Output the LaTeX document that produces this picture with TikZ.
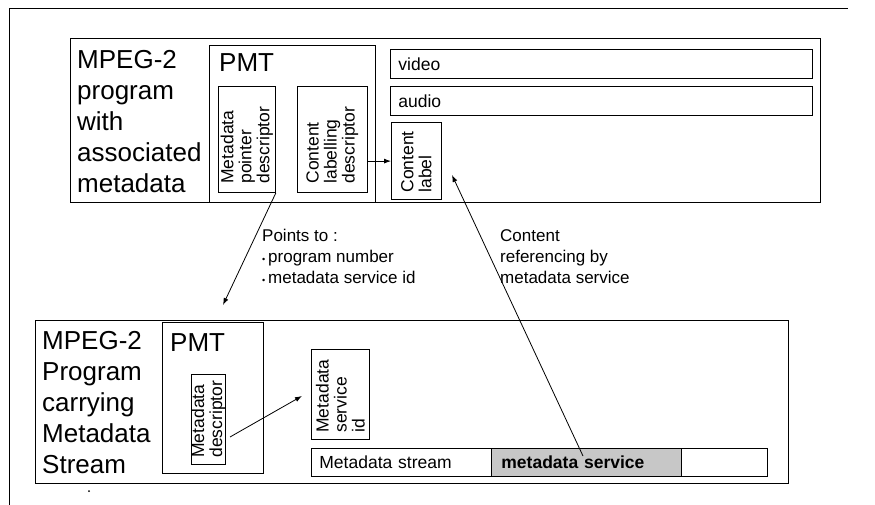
\documentclass[tikz,border=0pt]{standalone}
\usepackage{fontspec}
\setmainfont{Liberation Sans}
\usetikzlibrary{arrows.meta}

\begin{document}
\begin{tikzpicture}[x=1pt,y=-1pt]
\tikzset{box/.style = {draw, line width=.8pt, anchor=north west, inner sep=0pt}}
\tikzset{bigbox/.style = {box, line width=1.2pt}}
\tikzset{desc/.style = {box, rotate=90, align=left, inner xsep=9pt, font=\fontsize{17.5}{18}\selectfont}}
\tikzset{strip/.style = {box, align=left, inner xsep=8pt, minimum height=29pt, font=\fontsize{17.5}{19}\selectfont}}
\tikzset{title/.style = {anchor=north west, align=left, inner sep=0pt, font=\fontsize{26}{31}\selectfont}}
\tikzset{note/.style = {anchor=north west, align=left, inner sep=0pt, font=\fontsize{17}{21}\selectfont}}
\tikzset{edge/.style = {-{Latex[length=7pt,width=5pt]}, line width=.8pt}}
\newcommand{\bul}{{\fontsize{9}{9}\selectfont\textbullet}\,}

\useasboundingbox (0,0) rectangle (875,505);
\draw[line width=.8pt] (9,505) -- (9,8) -- (848,8);

% program with metadata
\node[bigbox, minimum width=750pt, minimum height=164pt] (prog) at (70,38) {};
\node[title] (progtxt) at (77,50) {MPEG-2\\program\\with\\associated\\metadata};
\node[box, minimum width=166pt, minimum height=157pt] (pmt) at (209,45) {};
\node[title] (pmttxt) at (219,53) {PMT};
\node[desc, minimum width=106pt, minimum height=57pt, text width=88pt] (ptr) at (218,193) {Metadata\\pointer\\descriptor};
\node[desc, minimum width=106pt, minimum height=70pt, text width=88pt] (ldesc) at (297,193) {Content\\labelling\\descriptor};
\node[strip, text width=406pt] (video) at (390,49) {video};
\node[strip, text width=406pt] (audio) at (390,86) {audio};
\node[desc, minimum width=77pt, minimum height=50pt, text width=63pt, inner xsep=7pt] (label) at (391,200) {Content\\label};

\draw[edge] (ldesc.south |- label.north) to (label.north);

% pointer
\coordinate (ptrend) at (223,305);
\draw[edge] (ptr.south west) to (ptrend);
\node[note] (points) at (262,229) {Points to :\\\bul program number\\\bul metadata service id};
\node[note] (refs) at (500,229) {Content\\referencing by\\metadata service};

% program carrying metadata
\node[bigbox, minimum width=753pt, minimum height=163pt] (carry) at (35,320) {};
\node[title] (carrytxt) at (42,331) {MPEG-2\\Program\\carrying\\Metadata\\Stream};
\node[box, minimum width=101pt, minimum height=151pt] (pmtb) at (162,322) {};
\node[title] (pmtbtxt) at (170,333) {PMT};
\node[desc, minimum width=90pt, minimum height=33pt, text width=76pt, inner xsep=7pt] (mdesc) at (191,465) {Metadata\\descriptor};
\node[desc, minimum width=90pt, minimum height=58pt, text width=76pt, inner xsep=7pt] (msid) at (311,440) {Metadata\\service\\id};
\node[strip, minimum height=28pt, text width=440pt] (stream) at (311,448) {Metadata stream};
\node[strip, minimum height=28pt, text width=170pt, inner xsep=10pt, fill=black!22, font=\fontsize{17.5}{19}\selectfont\bfseries] (service) at (491,448) {metadata service};
\fill (89,491) circle (1pt);

\coordinate (descout) at (230,437);
\coordinate (sidin) at (302,396);
\draw[edge] (descout) to (sidin);
\coordinate (servout) at (583,456);
\coordinate (labelin) at (452,175);
\draw[edge] (servout) to (labelin);

\end{tikzpicture}
\end{document}
